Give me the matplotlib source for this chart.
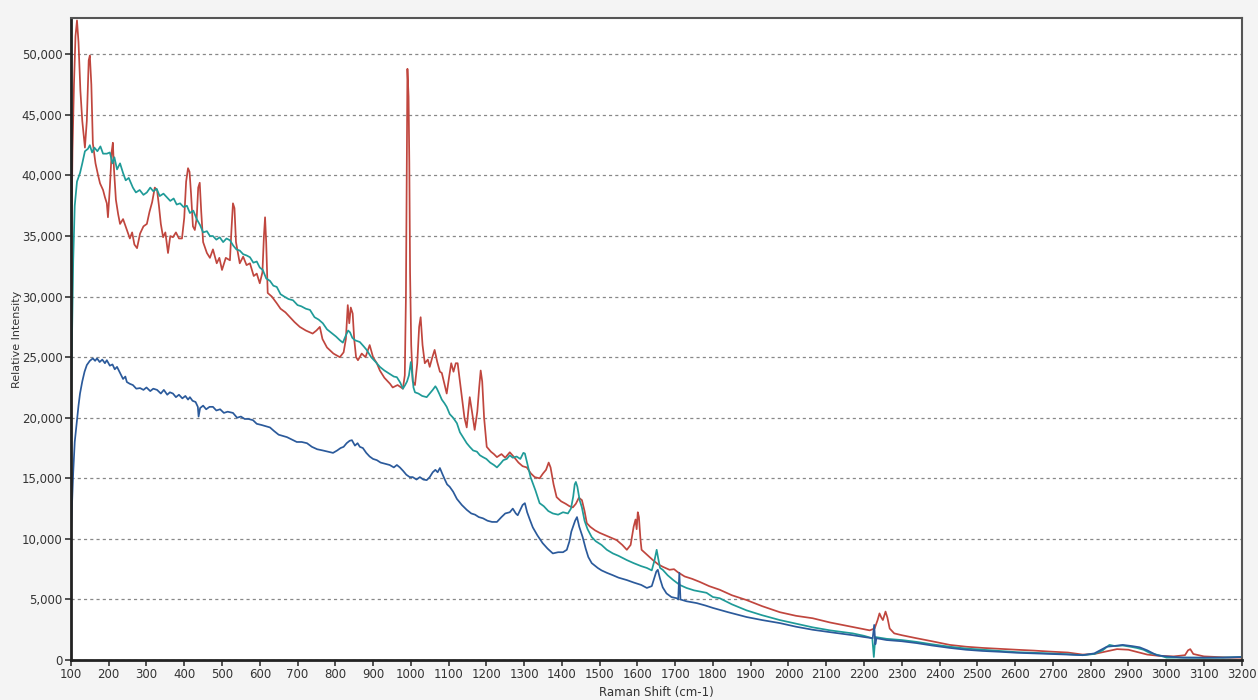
import matplotlib.pyplot as plt
import numpy as np
from matplotlib.ticker import FuncFormatter, MultipleLocator

# Raman spectra (shift in cm-1, relative intensity), three samples
red_pts = [
    (100, 31000), (104, 42000), (108, 47500), (112, 51500), (116, 52800), (120, 51000),
    (125, 47000), (130, 44500), (137, 42300), (142, 44500), (147, 49500), (150, 49900),
    (154, 47500), (158, 42650), (165, 41000), (172, 40000), (177, 39350), (185, 38800),
    (190, 38200), (195, 37700), (198, 36550), (203, 39000), (208, 42000), (211, 42700),
    (214, 40500), (219, 38000), (225, 36800), (230, 36000), (238, 36400), (248, 35500),
    (256, 34800), (262, 35300), (268, 34300), (275, 34000), (283, 35200), (292, 35800),
    (301, 36000), (308, 37000), (315, 37800), (322, 39000), (328, 38800), (333, 37500),
    (338, 36000), (344, 34900), (350, 35300), (357, 33600), (363, 35000), (370, 34900),
    (378, 35300), (386, 34800), (394, 34800), (400, 36500), (405, 39500), (410, 40600),
    (414, 40300), (418, 38500), (423, 35800), (428, 35500), (433, 36500), (437, 39000),
    (441, 39400), (445, 37000), (450, 34500), (460, 33600), (468, 33200), (476, 33900),
    (486, 32750), (493, 33200), (500, 32200), (510, 33200), (521, 33000), (525, 35500),
    (529, 37700), (533, 37300), (537, 34500), (547, 32750), (556, 33300), (565, 32600),
    (574, 32750), (584, 31700), (592, 31900), (600, 31100), (607, 32000), (611, 35000),
    (614, 36550), (617, 34500), (621, 30300), (632, 30000), (645, 29450), (655, 29000),
    (668, 28700), (680, 28300), (692, 27900), (706, 27500), (722, 27200), (740, 26950),
    (750, 27200), (759, 27500), (766, 26500), (778, 25800), (795, 25300), (812, 25000),
    (822, 25400), (828, 26500), (833, 29300), (837, 27800), (841, 29100), (846, 28600),
    (850, 26500), (855, 25000), (860, 24750), (870, 25300), (880, 25000), (891, 26000),
    (900, 25000), (910, 24500), (918, 23900), (930, 23300), (945, 22800), (952, 22500),
    (965, 22700), (979, 22400), (984, 23500), (987, 30000), (989, 40000), (991, 48800),
    (994, 46500), (996, 41000), (998, 32000), (1001, 26000), (1005, 23000), (1011, 22700),
    (1017, 24500), (1022, 27500), (1026, 28300), (1031, 26000), (1037, 24500), (1045, 24800),
    (1050, 24200), (1057, 25000), (1063, 25600), (1070, 24600), (1077, 23800), (1082, 23700),
    (1089, 22800), (1095, 22000), (1102, 23500), (1107, 24500), (1113, 23800), (1119, 24500),
    (1124, 24500), (1130, 23000), (1136, 21500), (1142, 20000), (1148, 19200), (1152, 20500),
    (1156, 21700), (1162, 20500), (1169, 19000), (1176, 20500), (1181, 22500), (1185, 23900),
    (1189, 23000), (1194, 20000), (1201, 17600), (1212, 17200), (1220, 17000), (1228, 16750),
    (1240, 17000), (1250, 16700), (1262, 17150), (1272, 16800), (1285, 16300), (1296, 16000),
    (1307, 15900), (1318, 15400), (1328, 15100), (1341, 15000), (1350, 15400), (1358, 15700),
    (1365, 16300), (1370, 15900), (1378, 14500), (1386, 13450), (1398, 13100), (1410, 12900),
    (1420, 12700), (1429, 12600), (1437, 12900), (1445, 13400), (1453, 13200), (1460, 12300),
    (1466, 11300), (1475, 11000), (1488, 10700), (1500, 10500), (1515, 10300), (1530, 10100),
    (1545, 9900), (1560, 9500), (1572, 9100), (1582, 9500), (1590, 11000), (1595, 11600),
    (1598, 10800), (1601, 12200), (1604, 11800), (1608, 10000), (1611, 9100), (1625, 8700),
    (1641, 8250), (1655, 7900), (1667, 7700), (1685, 7450), (1697, 7500), (1707, 7250),
    (1725, 6900), (1745, 6700), (1765, 6450), (1790, 6100), (1818, 5800), (1850, 5350),
    (1889, 4950), (1930, 4450), (1977, 3950), (2020, 3650), (2064, 3450), (2110, 3100),
    (2150, 2850), (2190, 2600), (2215, 2450), (2228, 2600), (2236, 3300), (2241, 3850),
    (2246, 3500), (2250, 3300), (2254, 3700), (2257, 4000), (2262, 3500), (2268, 2600),
    (2280, 2200), (2300, 2050), (2339, 1800), (2380, 1550), (2427, 1250), (2470, 1100),
    (2514, 1000), (2560, 920), (2604, 850), (2650, 780), (2691, 700), (2740, 620),
    (2779, 450), (2810, 500), (2840, 700), (2870, 900), (2900, 850), (2925, 650),
    (2950, 450), (2980, 350), (3020, 300), (3050, 400), (3058, 800), (3064, 900),
    (3072, 500), (3100, 300), (3133, 250), (3170, 200), (3200, 200),
]

teal_pts = [
    (100, 21000), (103, 27000), (106, 33000), (110, 37500), (116, 39500), (124, 40200),
    (130, 41000), (137, 42000), (145, 42200), (150, 42500), (156, 41900), (162, 42300),
    (170, 42000), (178, 42400), (185, 41800), (195, 41800), (203, 41900), (210, 41000),
    (215, 41500), (222, 40500), (230, 41000), (238, 40200), (245, 39600), (253, 39800),
    (264, 39000), (272, 38600), (282, 38800), (292, 38400), (301, 38600), (310, 39000),
    (318, 38700), (327, 38900), (335, 38300), (345, 38500), (354, 38200), (363, 37900),
    (372, 38100), (380, 37600), (389, 37700), (398, 37400), (407, 37500), (415, 36900),
    (424, 37100), (433, 36400), (442, 35900), (450, 35300), (460, 35400), (468, 35000),
    (476, 35000), (485, 34700), (494, 34900), (503, 34500), (512, 34800), (521, 34650),
    (530, 34200), (538, 33900), (547, 33800), (556, 33500), (565, 33400), (574, 33250),
    (583, 32800), (592, 32900), (600, 32400), (608, 32200), (617, 31500), (627, 31300),
    (636, 30900), (645, 30800), (655, 30200), (665, 30000), (676, 29800), (688, 29700),
    (700, 29300), (710, 29200), (722, 29000), (733, 28900), (745, 28300), (756, 28100),
    (767, 27800), (778, 27300), (790, 27000), (802, 26700), (812, 26400), (820, 26200),
    (828, 26800), (834, 27200), (839, 27050), (845, 26600), (852, 26400), (865, 26250),
    (875, 25900), (883, 25600), (895, 25000), (907, 24600), (918, 24200), (930, 23900),
    (945, 23600), (955, 23400), (963, 23350), (972, 22900), (979, 22400), (985, 22700),
    (990, 23000), (995, 23500), (1000, 24600), (1004, 23500), (1007, 22500), (1011, 22100),
    (1020, 22000), (1030, 21800), (1042, 21700), (1050, 22000), (1058, 22300), (1065, 22600),
    (1069, 22400), (1075, 22000), (1082, 21500), (1089, 21200), (1095, 20900), (1103, 20300),
    (1112, 20000), (1122, 19550), (1130, 18800), (1140, 18300), (1148, 17900), (1156, 17600),
    (1165, 17300), (1175, 17200), (1183, 16900), (1191, 16750), (1200, 16600), (1210, 16300),
    (1220, 16100), (1228, 15900), (1237, 16200), (1245, 16500), (1254, 16600), (1262, 16900),
    (1270, 16700), (1280, 16800), (1290, 16600), (1298, 17100), (1302, 17050), (1310, 16000),
    (1317, 15100), (1323, 14600), (1330, 14000), (1341, 12950), (1352, 12700), (1364, 12300),
    (1376, 12100), (1390, 12000), (1403, 12200), (1416, 12100), (1424, 12500), (1430, 13500),
    (1434, 14500), (1437, 14700), (1441, 14300), (1447, 13200), (1453, 12600), (1460, 11500),
    (1468, 10800), (1479, 10150), (1490, 9800), (1505, 9500), (1519, 9100), (1535, 8800),
    (1550, 8600), (1572, 8250), (1590, 8000), (1610, 7750), (1625, 7600), (1638, 7400),
    (1645, 8200), (1651, 9100), (1655, 8400), (1660, 7600), (1667, 7450), (1680, 7000),
    (1695, 6600), (1712, 6200), (1730, 5950), (1750, 5750), (1783, 5550), (1800, 5200),
    (1818, 5100), (1850, 4600), (1889, 4100), (1930, 3700), (1977, 3300), (2020, 3000),
    (2064, 2700), (2110, 2450), (2170, 2200), (2200, 2000), (2222, 1800), (2226, 250),
    (2230, 1900), (2260, 1750), (2300, 1650), (2339, 1500), (2380, 1300), (2427, 1100),
    (2470, 950), (2514, 850), (2560, 750), (2604, 650), (2650, 600), (2691, 550),
    (2740, 480), (2779, 400), (2810, 500), (2832, 800), (2850, 1250), (2865, 1150),
    (2885, 1200), (2905, 1100), (2922, 1000), (2940, 850), (2956, 600), (2980, 400),
    (3001, 200), (3050, 200), (3100, 180), (3150, 200), (3200, 250),
]

blue_pts = [
    (100, 10500), (103, 13000), (106, 15500), (110, 18000), (116, 19800), (120, 21000),
    (124, 22000), (130, 23000), (136, 23800), (142, 24350), (150, 24700), (158, 24900),
    (164, 24700), (169, 24900), (176, 24600), (183, 24800), (190, 24500), (195, 24750),
    (203, 24300), (210, 24400), (216, 24000), (222, 24200), (230, 23700), (238, 23200),
    (244, 23400), (248, 22950), (256, 22800), (264, 22700), (273, 22400), (283, 22450),
    (292, 22300), (300, 22500), (310, 22200), (318, 22400), (328, 22300), (338, 22000),
    (346, 22300), (355, 21900), (362, 22100), (370, 22000), (378, 21700), (386, 21900),
    (395, 21600), (403, 21800), (410, 21500), (415, 21700), (422, 21400), (430, 21300),
    (436, 20900), (438, 20100), (442, 20800), (450, 21000), (458, 20700), (467, 20900),
    (476, 20900), (485, 20600), (495, 20700), (505, 20400), (515, 20500), (529, 20400),
    (540, 20000), (550, 20100), (560, 19900), (570, 19900), (582, 19800), (592, 19500),
    (605, 19400), (616, 19300), (627, 19200), (638, 18900), (650, 18600), (661, 18500),
    (672, 18400), (685, 18200), (698, 18000), (711, 18000), (725, 17900), (738, 17600),
    (752, 17400), (767, 17300), (780, 17200), (794, 17100), (805, 17300), (814, 17500),
    (822, 17600), (830, 17900), (838, 18100), (844, 18150), (852, 17700), (859, 17900),
    (865, 17600), (873, 17500), (882, 17100), (891, 16800), (900, 16600), (910, 16500),
    (920, 16300), (932, 16200), (944, 16100), (955, 15900), (963, 16100), (971, 15900),
    (980, 15600), (988, 15300), (997, 15100), (1005, 15100), (1015, 14900), (1024, 15100),
    (1033, 14900), (1042, 14850), (1050, 15100), (1058, 15500), (1065, 15700), (1071, 15500),
    (1077, 15850), (1083, 15400), (1090, 14900), (1096, 14500), (1103, 14300), (1112, 13900),
    (1122, 13300), (1135, 12800), (1148, 12400), (1160, 12100), (1170, 12000), (1180, 11800),
    (1191, 11700), (1203, 11500), (1215, 11400), (1228, 11400), (1240, 11800), (1250, 12100),
    (1262, 12200), (1270, 12500), (1278, 12100), (1283, 11950), (1290, 12400), (1296, 12800),
    (1302, 12950), (1308, 12200), (1315, 11600), (1323, 10950), (1335, 10300), (1349, 9650),
    (1362, 9200), (1376, 8800), (1390, 8900), (1403, 8900), (1413, 9100), (1420, 9800),
    (1425, 10600), (1429, 10950), (1435, 11500), (1440, 11800), (1446, 11000), (1455, 10150),
    (1463, 9200), (1470, 8500), (1479, 8000), (1495, 7600), (1505, 7400), (1519, 7200),
    (1535, 7000), (1550, 6800), (1572, 6600), (1590, 6400), (1610, 6200), (1625, 5950),
    (1638, 6100), (1645, 6800), (1650, 7300), (1654, 7450), (1660, 6700), (1667, 6000),
    (1677, 5500), (1690, 5200), (1704, 5100), (1708, 5000), (1711, 7200), (1714, 5000),
    (1730, 4850), (1757, 4700), (1780, 4500), (1800, 4300), (1840, 3950), (1889, 3550),
    (1930, 3300), (1977, 3050), (2020, 2750), (2064, 2500), (2110, 2300), (2170, 2050),
    (2200, 1900), (2223, 1800), (2227, 2900), (2230, 1300), (2233, 1800), (2260, 1650),
    (2300, 1550), (2339, 1400), (2380, 1200), (2427, 1000), (2470, 850), (2514, 750),
    (2560, 680), (2604, 600), (2650, 550), (2691, 500), (2740, 450), (2779, 400),
    (2810, 550), (2843, 1100), (2860, 1150), (2885, 1250), (2910, 1150), (2930, 1050),
    (2950, 800), (2975, 400), (3000, 300), (3045, 200), (3100, 200), (3150, 200),
    (3200, 250),
]

series = [
    (red_pts, '#c0463e'),
    (teal_pts, '#1f9b98'),
    (blue_pts, '#2b5a9b'),
]

fig = plt.figure(figsize=(12.58, 7.0), dpi=100, facecolor='#f4f4f4')
ax = fig.add_axes([0.0564, 0.0571, 0.9306, 0.9172])
ax.set_facecolor('white')

for pts, col in series:
    x, y = np.array(pts).T
    ax.plot(x, y, color=col, lw=1.25)

ax.set_xlim(100, 3200)
ax.set_ylim(0, 53000)
ax.xaxis.set_major_locator(MultipleLocator(100))
ax.yaxis.set_major_locator(MultipleLocator(5000))
ax.yaxis.set_major_formatter(FuncFormatter(lambda v, p: f'{int(v):,}'))

ax.grid(axis='y', color='#888888', ls=(0, (2.5, 2.5)), lw=0.9)
ax.set_axisbelow(True)

for side in ['left', 'bottom']:
    ax.spines[side].set_linewidth(2.0)
    ax.spines[side].set_color('#222222')
for side in ['top', 'right']:
    ax.spines[side].set_linewidth(1.5)
    ax.spines[side].set_color('#555555')

ax.tick_params(axis='both', direction='out', length=4, width=1.2,
               color='#333333', labelsize=8.5, labelcolor='#333333', pad=2)

ax.set_xlabel('Raman Shift (cm-1)', fontsize=8.5, color='#333333', labelpad=3)
ax.set_ylabel('Relative Intensity', fontsize=8, color='#333333', labelpad=0)

plt.savefig('out.png', dpi=100, facecolor=fig.get_facecolor())
